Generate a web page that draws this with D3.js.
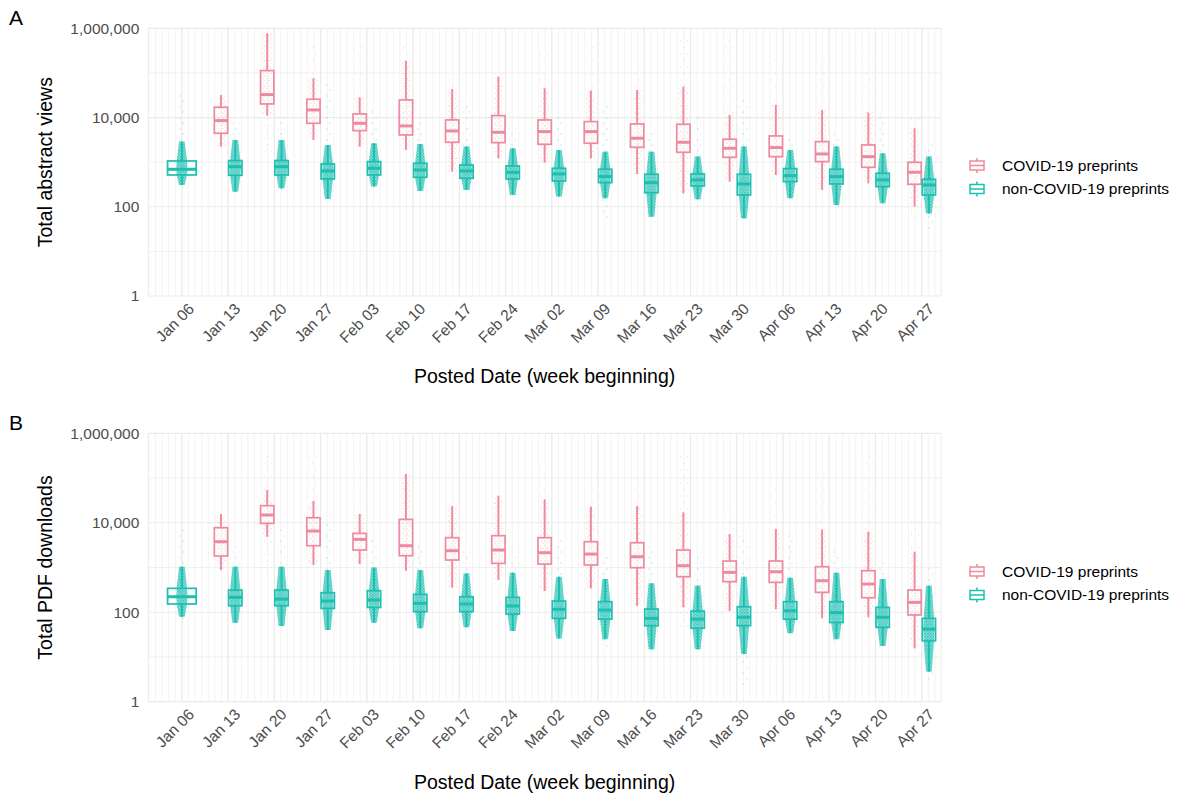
<!DOCTYPE html>
<html>
<head>
<meta charset="utf-8">
<script src="https://cdn.jsdelivr.net/npm/d3@7"></script>
<style>
  body { margin: 0; background: #fff; }
  svg { display: block; font-family: "Liberation Sans", Arial, sans-serif; }
</style>
</head>
<body>
<div id="container"></div>
<script>
(function() {

let weeks = ["2020-01-06", "2020-01-13", "2020-01-20", "2020-01-27", "2020-02-03",
  "2020-02-10", "2020-02-17", "2020-02-24", "2020-03-02", "2020-03-09", "2020-03-16",
  "2020-03-23", "2020-03-30", "2020-04-06", "2020-04-13", "2020-04-20", "2020-04-27"];
let weekLabels = ["Jan 06", "Jan 13", "Jan 20", "Jan 27", "Feb 03", "Feb 10", "Feb 17",
  "Feb 24", "Mar 02", "Mar 09", "Mar 16", "Mar 23", "Mar 30", "Apr 06", "Apr 13",
  "Apr 20", "Apr 27"];
let groups = ["COVID-19 preprints", "non-COVID-19 preprints"];
let yTicks = [1, 100, 10000, 1000000];
let yMinorTicks = [10, 1000, 100000];

// one row per week:
// [lowest point, lower whisker, q1, median, q3, upper whisker, highest point]
let viewsCovid = [
  null,
  [2230, 2230, 4440, 8530, 16980, 32100, 32100],
  [1450, 11050, 20180, 32660, 112800, 775000, 775000],
  [3150, 3150, 7430, 14800, 25700, 75900, 403000],
  [2230, 2230, 5090, 7430, 12050, 28450, 403000],
  [1880, 1880, 4070, 6480, 24800, 186000, 390000],
  [614, 614, 2790, 5010, 8830, 43700, 76000],
  [1220, 1220, 2740, 4670, 11050, 82800, 116000],
  [976, 976, 2515, 4840, 8830, 45300, 358000],
  [1220, 1220, 2650, 4840, 8110, 40200, 424000],
  [543, 543, 2155, 3430, 7190, 41600, 196000],
  [200, 200, 1665, 2790, 7070, 49400, 775000],
  [366, 366, 1285, 2045, 3260, 11430, 550000],
  [516, 516, 1330, 2120, 3870, 19170, 214000],
  [238, 238, 1028, 1527, 2885, 14800, 214000],
  [336, 336, 767, 1330, 2430, 12900, 277000],
  [50, 101, 319, 593, 993, 5740, 10500]
];
let viewsOther = [
  [259, 308, 516, 692, 1064, 2890, 38100],
  [207, 218, 508, 794, 1083, 3150, 8110],
  [238, 259, 516, 794, 1083, 3150, 10500],
  [142, 150, 420, 635, 912, 2430, 58700],
  [259, 283, 516, 728, 1028, 2650, 14800],
  [218, 226, 458, 668, 943, 2560, 8110],
  [230, 238, 435, 635, 865, 2230, 24800],
  [163, 184, 420, 593, 822, 2050, 7430],
  [160, 169, 379, 544, 728, 1880, 12470],
  [55, 155, 348, 474, 692, 1720, 20900],
  [58, 60, 207, 348, 535, 1720, 5270],
  [101, 147, 293, 399, 544, 1330, 10500],
  [53, 55, 184, 325, 535, 2230, 24800],
  [142, 155, 366, 500, 716, 1880, 3740],
  [101, 110, 325, 474, 692, 2230, 4440],
  [110, 120, 283, 399, 563, 1580, 12470],
  [28, 71, 184, 308, 413, 1330, 2650]
];
let downloadsCovid = [
  null,
  [878, 878, 1805, 3775, 7760, 15700, 15700],
  [623, 4880, 9700, 14900, 24100, 53900, 356000],
  [1135, 1135, 3070, 6530, 12970, 30600, 327000],
  [1195, 1195, 2455, 4255, 5790, 15700, 185000],
  [848, 848, 1835, 3070, 11900, 123000, 123000],
  [354, 354, 1470, 2375, 4640, 23700, 38000],
  [525, 525, 1237, 2455, 5140, 40300, 40300],
  [298, 298, 1195, 2140, 4640, 33400, 196000],
  [341, 341, 1135, 2000, 3775, 22900, 90000],
  [138, 138, 990, 1742, 3585, 23700, 117000],
  [47, 128, 623, 1097, 2455, 17100, 327000],
  [106, 106, 482, 779, 1395, 5600, 23700],
  [116, 116, 465, 805, 1395, 7240, 76000],
  [73, 73, 278, 507, 1042, 7110, 139000],
  [77, 77, 211, 427, 848, 6310, 356000],
  [15.6, 15.6, 87, 166, 313, 2255, 11500]
];
let downloadsOther = [
  [67, 79, 153, 222, 342, 1042, 8170],
  [56, 58, 140, 215, 313, 1042, 2920],
  [47, 49, 140, 197, 313, 1042, 8170],
  [40, 40, 122, 178, 273, 880, 9700],
  [56, 58, 128, 187, 303, 1000, 4880],
  [40, 44, 103, 158, 251, 878, 3180],
  [44, 46, 103, 153, 222, 739, 2455],
  [35, 38, 91, 138, 215, 765, 2455],
  [25, 26, 73, 116, 178, 623, 4880],
  [13.8, 25, 70, 112, 172, 552, 1900],
  [11, 14.8, 50, 73, 118, 442, 2920],
  [14.3, 14.8, 44, 70, 106, 392, 2680],
  [1.9, 11.6, 50, 77, 133, 623, 6880],
  [33, 34, 70, 108, 172, 592, 5320],
  [22, 25, 59, 98, 172, 765, 2455],
  [17, 17.5, 46, 77, 128, 552, 1470],
  [2.8, 4.7, 23, 42, 73, 392, 957]
];

let colors = ["#EE8A9D", "#1CBFB0"];
let gridColor = "#EBEBEB";
let width = 1179, height = 796;
let left = 148.3, right = 941;

let parseDate = d3.utcParse("%Y-%m-%d");
let weekDates = weeks.map(parseDate);

let x = d3.scaleUtc()
  .domain([new Date(Date.UTC(2019, 11, 31, 22)), new Date(Date.UTC(2020, 3, 29, 22))])
  .range([left, right]);

let svg = d3.select("#container")
  .append("svg")
    .attr("width", width)
    .attr("height", height);

// dotted fills that stand in for the jittered points
let defs = svg.append("defs");
function addPattern(id, w, h, color, bg, dots) {
  let p = defs.append("pattern")
    .attr("id", id)
    .attr("patternUnits", "userSpaceOnUse")
    .attr("width", w)
    .attr("height", h);
  if (bg) p.append("rect").attr("width", w).attr("height", h).attr("fill", color).attr("opacity", bg);
  dots.forEach((d) => {
    p.append("circle").attr("cx", d[0]).attr("cy", d[1]).attr("r", d[2]).attr("fill", color).attr("opacity", d[3]);
  });
}
addPattern("tealDense", 3, 3, colors[1], 0.55, [[0.8, 0.8, 0.7, 0.9], [2.2, 2.1, 0.7, 0.9]]);
addPattern("tealSparse", 7, 11, colors[1], 0, [[1, 2, 0.7, 0.4], [5, 8, 0.7, 0.4]]);
addPattern("pinkDense", 4, 5, colors[0], 0, [[1, 1, 0.7, 0.35], [3, 3.4, 0.7, 0.35]]);
addPattern("pinkSparse", 7, 13, colors[0], 0, [[1.5, 2, 0.75, 0.28], [5, 8.5, 0.75, 0.28]]);

buildPanel({ top: 28.3, bottom: 296, letter: "A", title: "Total abstract views",
  covid: viewsCovid, other: viewsOther, legendY: 165.5 });
buildPanel({ top: 433.3, bottom: 701.7, letter: "B", title: "Total PDF downloads",
  covid: downloadsCovid, other: downloadsOther, legendY: 571.5 });

function buildPanel(opt) {
  let y = d3.scaleLog()
    .domain([1, 1000000])
    .range([opt.bottom, opt.top]);
  let g = svg.append("g");

  // grid
  let days = d3.utcDay.range(x.domain()[0], x.domain()[1]);
  g.append("g")
    .selectAll("line")
    .data(days)
    .join("line")
      .attr("x1", (d) => x(d)).attr("x2", (d) => x(d))
      .attr("y1", opt.top).attr("y2", opt.bottom)
      .attr("stroke", gridColor).attr("stroke-width", 0.6);
  g.append("g")
    .selectAll("line")
    .data(weekDates)
    .join("line")
      .attr("x1", (d) => x(d)).attr("x2", (d) => x(d))
      .attr("y1", opt.top).attr("y2", opt.bottom)
      .attr("stroke", gridColor).attr("stroke-width", 1.2);
  g.append("g")
    .selectAll("line")
    .data(yMinorTicks)
    .join("line")
      .attr("x1", left).attr("x2", right)
      .attr("y1", (d) => y(d)).attr("y2", (d) => y(d))
      .attr("stroke", gridColor).attr("stroke-width", 0.7);
  g.append("g")
    .selectAll("line")
    .data(yTicks)
    .join("line")
      .attr("x1", left).attr("x2", right)
      .attr("y1", (d) => y(d)).attr("y2", (d) => y(d))
      .attr("stroke", gridColor).attr("stroke-width", 1.2);
  [left, right].forEach((px) => {
    g.append("line")
      .attr("x1", px).attr("x2", px).attr("y1", opt.top).attr("y2", opt.bottom)
      .attr("stroke", gridColor).attr("stroke-width", 1);
  });

  // axes
  let yAxis = g.append("g")
    .attr("transform", "translate(" + left + ",0)")
    .call(d3.axisLeft(y).tickValues(yTicks).tickFormat(d3.format(",")).tickSize(0).tickPadding(9));
  yAxis.select(".domain").remove();
  yAxis.attr("font-family", null).attr("font-size", null);
  yAxis.selectAll("text").attr("fill", "#4D4D4D").style("font-size", "15.5px");

  let xAxis = g.append("g")
    .attr("transform", "translate(0," + opt.bottom + ")")
    .call(d3.axisBottom(x).tickValues(weekDates).tickFormat((d, i) => weekLabels[i]).tickSize(0).tickPadding(0));
  xAxis.select(".domain").remove();
  xAxis.attr("font-family", null).attr("font-size", null);
  xAxis.selectAll("text")
    .attr("y", 0)
    .attr("dy", "0.71em")
    .attr("text-anchor", "end")
    .attr("transform", "translate(5,6) rotate(-45)")
    .attr("fill", "#4D4D4D")
    .style("font-size", "15.5px");

  g.append("text")
    .attr("x", (left + right) / 2)
    .attr("y", opt.bottom + 87)
    .attr("text-anchor", "middle")
    .style("font-size", "19.5px")
    .text("Posted Date (week beginning)");
  g.append("text")
    .attr("transform", "translate(52," + ((opt.top + opt.bottom) / 2) + ") rotate(-90)")
    .attr("text-anchor", "middle")
    .style("font-size", "19.5px")
    .text(opt.title);
  g.append("text")
    .attr("x", 9)
    .attr("y", opt.top - 3)
    .style("font-size", "21px")
    .text(opt.letter);

  // boxes
  let half = x(d3.utcHour.offset(weekDates[0], 26)) - x(weekDates[0]);
  let items = [];
  weekDates.forEach((d, i) => {
    let c = x(d);
    if (opt.covid[i]) {
      items.push({ cx: c - half, w: 2 * half - 1, s: opt.covid[i], k: 0 });
      items.push({ cx: c + half, w: 2 * half - 1, s: opt.other[i], k: 1 });
    } else {
      items.push({ cx: c, w: 4 * half, s: opt.other[i], k: 1 });
    }
  });

  let spindle = d3.line().curve(d3.curveLinearClosed);
  let clouds = g.append("g");
  items.forEach((b) => {
    let s = b.s;
    if (b.k === 1) {
      clouds.append("rect")
        .attr("x", b.cx - 0.5 * half).attr("width", half)
        .attr("y", y(s[6])).attr("height", y(s[0]) - y(s[6]))
        .attr("fill", "url(#tealSparse)");
      let f = [[s[5], 0.4], [s[4], 0.72], [s[3], 0.78], [s[2], 0.72], [s[1], 0.4]];
      let pts = f.map((p) => [b.cx + p[1] * half, y(p[0])])
        .concat(f.slice().reverse().map((p) => [b.cx - p[1] * half, y(p[0])]));
      clouds.append("path").attr("d", spindle(pts)).attr("fill", "url(#tealDense)");
    } else {
      clouds.append("rect")
        .attr("x", b.cx - 0.7 * half).attr("width", 1.4 * half)
        .attr("y", y(s[6])).attr("height", y(s[0]) - y(s[6]))
        .attr("fill", "url(#pinkSparse)");
      clouds.append("rect")
        .attr("x", b.cx - 0.6 * half).attr("width", 1.2 * half)
        .attr("y", y(s[5])).attr("height", y(s[1]) - y(s[5]))
        .attr("fill", "url(#pinkDense)");
    }
  });

  let boxes = g.append("g")
    .selectAll("g")
    .data(items)
    .join("g")
      .attr("stroke", (d) => colors[d.k])
      .attr("fill", "none");
  boxes.append("line")
    .attr("x1", (d) => d.cx).attr("x2", (d) => d.cx)
    .attr("y1", (d) => y(d.s[5])).attr("y2", (d) => y(d.s[4]))
    .attr("stroke-width", 1.9);
  boxes.append("line")
    .attr("x1", (d) => d.cx).attr("x2", (d) => d.cx)
    .attr("y1", (d) => y(d.s[2])).attr("y2", (d) => y(d.s[1]))
    .attr("stroke-width", 1.9);
  boxes.append("rect")
    .attr("x", (d) => d.cx - d.w / 2).attr("width", (d) => d.w)
    .attr("y", (d) => y(d.s[4])).attr("height", (d) => y(d.s[2]) - y(d.s[4]))
    .attr("stroke-width", 1.7);
  boxes.append("line")
    .attr("x1", (d) => d.cx - d.w / 2).attr("x2", (d) => d.cx + d.w / 2)
    .attr("y1", (d) => y(d.s[3])).attr("y2", (d) => y(d.s[3]))
    .attr("stroke-width", 3);

  // legend
  let legend = g.append("g")
    .selectAll("g")
    .data(groups)
    .join("g")
      .attr("transform", (d, i) => "translate(970," + (opt.legendY + i * 23.5) + ")");
  legend.append("line")
    .attr("x1", 7).attr("x2", 7).attr("y1", -7.5).attr("y2", 7.5)
    .attr("stroke", (d, i) => colors[i]).attr("stroke-width", 1.5);
  legend.append("rect")
    .attr("x", 0).attr("y", -4.5).attr("width", 14).attr("height", 9)
    .attr("fill", "#fff").attr("stroke", (d, i) => colors[i]).attr("stroke-width", 1.5);
  legend.append("line")
    .attr("x1", 0).attr("x2", 14).attr("y1", 0).attr("y2", 0)
    .attr("stroke", (d, i) => colors[i]).attr("stroke-width", 1.5);
  legend.append("text")
    .attr("x", 32)
    .attr("dy", "0.35em")
    .style("font-size", "15.5px")
    .text((d) => d);
}

})();
</script>
</body>
</html>
